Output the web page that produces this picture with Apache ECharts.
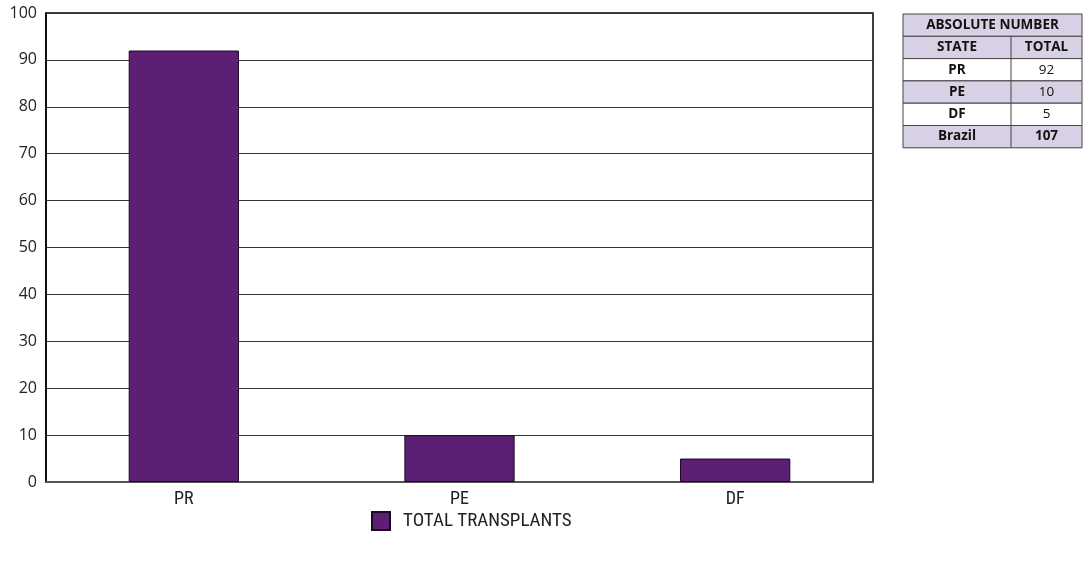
<!DOCTYPE html>
<html>
<head>
<meta charset="utf-8">
<script src="https://cdn.jsdelivr.net/npm/echarts@6/dist/echarts.min.js"></script>
<style>html,body{margin:0;padding:0;background:#fff}#c{width:1088px;height:562px}</style>
</head>
<body>
<div id="c"></div>
<script>
var categories = ['PR', 'PE', 'DF'];
var totals = [92, 10, 5];
var seriesName = 'TOTAL TRANSPLANTS';
var tableTitle = 'ABSOLUTE NUMBER';
var tableHeaders = ['STATE', 'TOTAL'];
var tableStates = ['PR', 'PE', 'DF', 'Brazil'];
var tableTotals = [92, 10, 5, 107];

var chart = echarts.init(document.getElementById('c'));

var narrow = '"Liberation Sans Narrow", "Roboto Condensed", "Arial Narrow", sans-serif';
// table via graphic
var tx = 903, tw = 179, tdiv = 1011, ty = 14, rh = 22.3;
var lav = '#d8d0e4', bc = '#444';
var g = [];
var rows = [{type:'title'}, {type:'head'}];
for (var i = 0; i < tableStates.length; i++) rows.push({type:'data', i:i});
rows.forEach(function (r, k) {
  var y = ty + k * rh;
  var fill = lav;
  if (r.type === 'data' && r.i % 2 === 0 && r.i !== tableStates.length - 1) fill = '#fff';
  g.push({type:'rect', shape:{x:tx, y:y, width:tw, height:rh}, style:{fill:fill, stroke:bc, lineWidth:1}, silent:true});
  var font = 'bold 13.5px "Open Sans", sans-serif';
  if (r.type === 'title') {
    g.push({type:'text', x:tx + tw/2, y:y + rh/2, style:{text:tableTitle, font:font, fill:'#111', align:'center', verticalAlign:'middle'}});
  } else {
    g.push({type:'line', shape:{x1:tdiv, y1:y, x2:tdiv, y2:y + rh}, style:{stroke:bc, lineWidth:1}});
    var a, b, fb = font;
    if (r.type === 'head') { a = tableHeaders[0]; b = tableHeaders[1]; }
    else {
      a = tableStates[r.i]; b = String(tableTotals[r.i]);
      fb = (r.i === tableStates.length - 1) ? font : '13.5px "Open Sans", sans-serif';
    }
    g.push({type:'text', x:(tx + tdiv)/2, y:y + rh/2, style:{text:a, font:font, fill:'#111', align:'center', verticalAlign:'middle'}});
    g.push({type:'text', x:(tdiv + tx + tw)/2, y:y + rh/2, style:{text:b, font:fb, fill:'#111', align:'center', verticalAlign:'middle'}});
  }
});

chart.setOption({
  animation: false,
  grid: {left: 46, right: 215, top: 13, bottom: 80, show: true, borderColor: '#000', borderWidth: 1.5, backgroundColor: 'transparent'},
  legend: {
    data: [{name: seriesName, icon: 'rect'}], left: 366, top: 506, itemWidth: 18, itemHeight: 18, itemGap: 14,
    textStyle: {fontFamily: narrow, fontSize: 19, color: '#222', padding: [0,0,0,8]}
  },
  xAxis: {
    type: 'category', data: categories,
    axisLine: {lineStyle: {color: '#555', width: 2}}, axisTick: {show: false},
    axisLabel: {fontFamily: narrow, fontSize: 18, color: '#222', margin: 8}
  },
  yAxis: {
    type: 'value', min: 0, max: 100, interval: 10,
    axisLine: {show: true, lineStyle: {color: '#000', width: 1.5}}, axisTick: {show: false},
    splitLine: {lineStyle: {color: '#333', width: 1.2}},
    axisLabel: {fontFamily: '"Open Sans", sans-serif', fontSize: 16, color: '#222', margin: 9}
  },
  series: [{
    name: seriesName, type: 'bar', data: totals, barWidth: '40%',
    itemStyle: {color: '#5c1f74', borderColor: '#1a0a22', borderWidth: 1}
  }],
  graphic: g
});
</script>
</body>
</html>
